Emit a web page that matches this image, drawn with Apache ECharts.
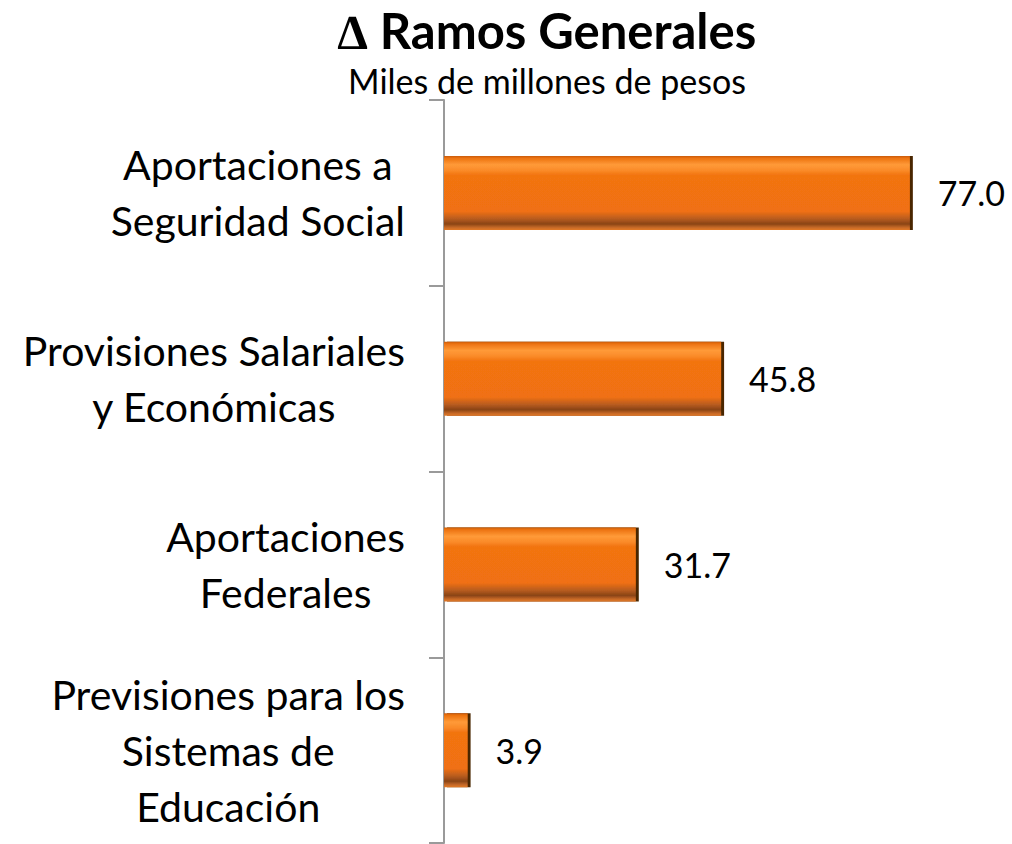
<!DOCTYPE html>
<html>
<head>
<meta charset="utf-8">
<script src="https://cdn.jsdelivr.net/npm/echarts@6/dist/echarts.min.js"></script>
<style>
  html, body { margin: 0; padding: 0; background: #fff; }
  #chart { width: 1012px; height: 844px; }
</style>
</head>
<body>
<div id="chart"></div>
<script>
// datos del gráfico
const titulo = '\u2206 Ramos Generales'
const subtitulo = 'Miles de millones de pesos'
const categorias = [
  'Aportaciones a\nSeguridad Social',
  'Provisiones Salariales\ny Económicas',
  'Aportaciones\nFederales',
  'Previsiones para los\nSistemas de\nEducación'
]
const valores = [77.0, 45.8, 31.7, 3.9]

const chart = echarts.init(document.getElementById('chart'), null, { renderer: 'svg' })

// relleno tipo bisel (claro arriba, oscuro abajo)
const relleno = new echarts.graphic.LinearGradient(0, 0, 0, 1, [
  { offset: 0, color: '#c65a08' },
  { offset: 0.03, color: '#ec7210' },
  { offset: 0.12, color: '#ff9a38' },
  { offset: 0.2, color: '#fa8a28' },
  { offset: 0.26, color: '#f27411' },
  { offset: 0.75, color: '#f07012' },
  { offset: 0.85, color: '#b85c20' },
  { offset: 0.92, color: '#8a4415' },
  { offset: 0.97, color: '#c86a28' },
  { offset: 1, color: '#e07828' }
])

const options = {
  animation: false,
  textStyle: { fontFamily: 'Lato' },
  graphic: [
    {
      type: 'text',
      x: 547, y: 30,
      style: {
        text: titulo,
        font: 'bold 49px Lato',
        fill: '#000',
        align: 'center',
        verticalAlign: 'middle'
      }
    },
    {
      type: 'text',
      x: 547, y: 80,
      style: {
        text: subtitulo,
        font: '34px Lato',
        fill: '#000',
        align: 'center',
        verticalAlign: 'middle'
      }
    }
  ],
  grid: { left: 444, right: 84, top: 100, bottom: 1 },
  xAxis: {
    type: 'value',
    min: 0,
    max: 80,
    show: false
  },
  yAxis: {
    type: 'category',
    data: categorias,
    inverse: true,
    axisLine: { show: true, lineStyle: { color: '#9a9a9a', width: 2 } },
    axisTick: { show: true, length: 15, lineStyle: { color: '#9a9a9a', width: 2 } },
    axisLabel: {
      margin: 39,
      color: '#000',
      fontSize: 41,
      lineHeight: 56,
      fontFamily: 'Lato',
      formatter: (v) => v.split('\n').map((l) => '{c|' + l + '}').join('\n'),
      rich: {
        c: { align: 'center', fontSize: 41, lineHeight: 56, fontFamily: 'Lato', color: '#000' }
      }
    }
  },
  series: [
    {
      type: 'bar',
      data: valores,
      barWidth: 74,
      itemStyle: {
        color: relleno,
        shadowColor: '#4a2806',
        shadowOffsetX: 3,
        shadowOffsetY: 0,
        shadowBlur: 0
      },
      label: {
        show: true,
        position: 'right',
        distance: 28,
        color: '#000',
        fontSize: 34,
        fontFamily: 'Lato',
        formatter: (p) => p.value.toFixed(1)
      }
    }
  ]
}

chart.setOption(options)
</script>
</body>
</html>
